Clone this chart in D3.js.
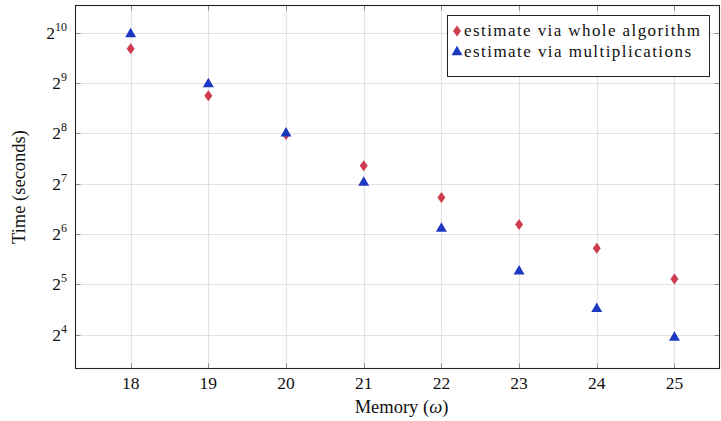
<!DOCTYPE html>
<html><head><meta charset="utf-8">
<script src="https://cdn.jsdelivr.net/npm/d3@7"></script>
<style>body{margin:0;background:#fff}svg{display:block}</style>
</head><body><svg id="c" width="721" height="421" font-family="'Liberation Serif', 'Times New Roman', Times, 'DejaVu Serif', serif"></svg>
<script>
const memory = [18, 19, 20, 21, 22, 23, 24, 25];
const wholeAlgorithm = [820, 430, 252, 164, 106, 73, 52.7, 34.5];
const multiplications = [1003, 505, 256, 130, 69, 38.3, 22.9, 15.4];
const yTickExponents = [4, 5, 6, 7, 8, 9, 10];
const seriesNames = ["estimate via whole algorithm", "estimate via multiplications"];
const colors = ["#cf3c50", "#1c38c0"];

const svg = d3.select("#c");
const L = 75.5, R = 719.5, T = 5.5, B = 368.5;
const x = d3.scaleLinear().domain([17.29, 25.58]).range([L, R]);
const y = d3.scaleLog().base(2).domain([Math.pow(2, 3.33), Math.pow(2, 10.54)]).range([B, T]);
const yTicks = yTickExponents.map(e => Math.pow(2, e));

// grid
const g = svg.append("g");
g.selectAll(".gx").data(memory).join("line")
  .attr("x1", d => Math.round(x(d)) + 0.5).attr("x2", d => Math.round(x(d)) + 0.5)
  .attr("y1", T).attr("y2", B).attr("stroke", "#e3e3e3").attr("stroke-width", 1.2);
g.selectAll(".gy").data(yTicks).join("line")
  .attr("y1", d => Math.round(y(d)) + 0.5).attr("y2", d => Math.round(y(d)) + 0.5)
  .attr("x1", L).attr("x2", R).attr("stroke", "#e3e3e3").attr("stroke-width", 1.2);

// ticks (inward, both sides)
const tk = svg.append("g").attr("stroke", "#8f8f8f").attr("stroke-width", 1);
memory.forEach(d => {
  const px = Math.round(x(d)) + 0.5;
  tk.append("line").attr("x1", px).attr("x2", px).attr("y1", B).attr("y2", B - 5);
  tk.append("line").attr("x1", px).attr("x2", px).attr("y1", T).attr("y2", T + 5);
});
yTicks.forEach(d => {
  const py = Math.round(y(d)) + 0.5;
  tk.append("line").attr("x1", L).attr("x2", L + 5).attr("y1", py).attr("y2", py);
  tk.append("line").attr("x1", R).attr("x2", R - 5).attr("y1", py).attr("y2", py);
});

// frame
svg.append("rect").attr("x", L).attr("y", T).attr("width", R - L).attr("height", B - T)
  .attr("fill", "none").attr("stroke", "#222").attr("stroke-width", 1.1);

// x tick labels
svg.selectAll(".xl").data(memory).join("text")
  .attr("x", d => x(d)).attr("y", 389).attr("text-anchor", "middle").attr("fill", "#111")
  .attr("font-size", 17.5).text(d => d);

// y tick labels
const yl = svg.selectAll(".yl").data(yTickExponents).join("text")
  .attr("x", 67).attr("y", d => y(Math.pow(2, d)) + 6).attr("text-anchor", "end")
  .attr("font-size", 17.5).attr("fill", "#111");
yl.append("tspan").text("2");
yl.append("tspan").attr("font-size", 12).attr("dy", -8).text(d => d);

// axis titles
svg.append("text").attr("x", (L + R) / 2 + 4).attr("y", 413).attr("text-anchor", "middle")
  .attr("font-size", 18.5).attr("fill", "#111").html("Memory (<tspan font-style='italic'>ω</tspan>)");
svg.append("text").attr("transform", `translate(25,${(T + B) / 2}) rotate(-90)`)
  .attr("text-anchor", "middle").attr("font-size", 18.5).attr("fill", "#111").text("Time (seconds)");

// markers
const diamond = "M0,-5.5L4,0L0,5.5L-4,0Z";
const tri = d3.symbol().type(d3.symbolTriangle).size(52)();
svg.append("g").selectAll("path").data(memory).join("path")
  .attr("d", diamond).attr("fill", colors[0])
  .attr("transform", (d, i) => `translate(${x(d)},${y(wholeAlgorithm[i])})`);
svg.append("g").selectAll("path").data(memory).join("path")
  .attr("d", tri).attr("fill", colors[1])
  .attr("transform", (d, i) => `translate(${x(d)},${y(multiplications[i])})`);

// legend
const lg = svg.append("g");
lg.append("rect").attr("x", 447.5).attr("y", 15.5).attr("width", 262).attr("height", 61)
  .attr("fill", "#fff").attr("stroke", "#222").attr("stroke-width", 1);
lg.append("path").attr("d", diamond).attr("fill", colors[0]).attr("transform", "translate(457,31)");
lg.append("path").attr("d", tri).attr("fill", colors[1]).attr("transform", "translate(457,52)");
lg.selectAll(".lt").data(seriesNames).join("text")
  .attr("x", 464).attr("y", (d, i) => 36 + i * 21).attr("font-size", 17).attr("fill", "#111")
  .attr("textLength", (d, i) => i === 0 ? 236 : 227).attr("lengthAdjust", "spacing")
  .text(d => d);
</script></body></html>
